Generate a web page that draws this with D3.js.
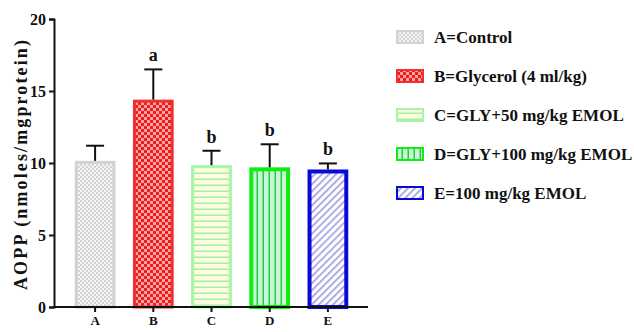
<!DOCTYPE html>
<html>
<head>
<meta charset="utf-8">
<script src="https://cdn.jsdelivr.net/npm/d3@7"></script>
</head>
<body style="margin:0;background:#fff">
<svg id="chart" width="634" height="332"></svg>
<script>
// data
const groups = ["A", "B", "C", "D", "E"];
const means = [10.15, 14.4, 9.85, 9.7, 9.55];
const errors = [1.05, 2.1, 1.0, 1.6, 0.42];
const sigLetters = ["", "a", "b", "b", "b"];
const legendLabels = ["A=Control", "B=Glycerol (4 ml/kg)", "C=GLY+50 mg/kg EMOL", "D=GLY+100 mg/kg EMOL", "E=100 mg/kg EMOL"];
const yTicks = [0, 5, 10, 15, 20];

const serif = '"Times New Roman"';
const svg = d3.select("#chart");
const defs = svg.append("defs");

// fill patterns, one per group
function pat(id, w, h, draw) {
  const p = defs.append("pattern").attr("id", id)
    .attr("patternUnits", "userSpaceOnUse").attr("width", w).attr("height", h);
  draw(p);
}
pat("pA", 4, 4, p => {
  p.append("rect").attr("width", 4).attr("height", 4).attr("fill", "#f4f4f4");
  p.append("rect").attr("width", 2).attr("height", 2).attr("fill", "#d4d4d4");
  p.append("rect").attr("x", 2).attr("y", 2).attr("width", 2).attr("height", 2).attr("fill", "#d4d4d4");
});
pat("pB", 6, 6, p => {
  p.append("rect").attr("width", 6).attr("height", 6).attr("fill", "#ffa3a3");
  p.append("rect").attr("width", 3).attr("height", 3).attr("fill", "#ee1c1c");
  p.append("rect").attr("x", 3).attr("y", 3).attr("width", 3).attr("height", 3).attr("fill", "#ee1c1c");
});
pat("pC", 6, 6, p => {
  p.append("rect").attr("width", 6).attr("height", 6).attr("fill", "#fdfde0");
  p.append("rect").attr("y", 4.5).attr("width", 6).attr("height", 1.5).attr("fill", "#a6f0a6");
});
pat("pD", 6, 6, p => {
  p.append("rect").attr("width", 6).attr("height", 6).attr("fill", "#c9f7d6");
  p.append("rect").attr("x", 4.5).attr("width", 1.5).attr("height", 6).attr("fill", "#22cc44");
});
pat("pE", 5, 5, p => {
  p.attr("patternTransform", "rotate(45)");
  p.append("rect").attr("width", 5).attr("height", 5).attr("fill", "#ffffff");
  p.append("rect").attr("width", 1.6).attr("height", 5).attr("fill", "#9c9ce0");
});

const fills = ["url(#pA)", "url(#pB)", "url(#pC)", "url(#pD)", "url(#pE)"];
const strokes = ["#d2d2d2", "#f03030", "#a8f5a8", "#10ee10", "#0a0ad8"];
const strokeW = [3, 3, 3, 4, 4];

const margin = { left: 54, top: 19, bottom: 25 };
const plotH = 332 - margin.top - margin.bottom; // 288

const x = d3.scaleBand().domain(groups).range([66, 357]).paddingInner(0.3).paddingOuter(0.15);
const y = d3.scaleLinear().domain([0, 20]).range([margin.top + plotH, margin.top]);

const g = svg.append("g");

// bars
g.selectAll("rect.bar").data(groups).enter().append("rect")
  .attr("class", "bar")
  .attr("x", (d, i) => x(d) + strokeW[i] / 2)
  .attr("y", (d, i) => y(means[i]) + strokeW[i] / 2)
  .attr("width", (d, i) => x.bandwidth() - strokeW[i])
  .attr("height", (d, i) => y(0) - y(means[i]) - strokeW[i] / 2)
  .attr("fill", (d, i) => fills[i])
  .attr("stroke", (d, i) => strokes[i])
  .attr("stroke-width", (d, i) => strokeW[i]);

// error bars (upper only)
groups.forEach((d, i) => {
  const cx = x(d) + x.bandwidth() / 2;
  g.append("line").attr("x1", cx).attr("x2", cx)
    .attr("y1", y(means[i])).attr("y2", y(means[i] + errors[i]))
    .attr("stroke", "#111").attr("stroke-width", 2);
  g.append("line").attr("x1", cx - 9).attr("x2", cx + 9)
    .attr("y1", y(means[i] + errors[i])).attr("y2", y(means[i] + errors[i]))
    .attr("stroke", "#111").attr("stroke-width", 2);
  if (sigLetters[i]) {
    g.append("text").attr("x", cx).attr("y", y(means[i] + errors[i]) - 8)
      .attr("text-anchor", "middle").attr("font-size", 18).attr("fill", "#111")
      .text(sigLetters[i]);
  }
});

// axes
const yAxis = g.append("g").attr("transform", `translate(${margin.left},0)`)
  .call(d3.axisLeft(y).tickValues(yTicks).tickSize(5).tickPadding(3));
const xAxis = g.append("g").attr("transform", `translate(0,${y(0)})`)
  .call(d3.axisBottom(x).tickSize(5).tickPadding(4).tickSizeOuter(0));
xAxis.select(".domain").attr("d", `M${margin.left},0H368`);
[yAxis, xAxis].forEach(a => {
  a.select(".domain").attr("stroke", "#111").attr("stroke-width", 2);
  a.selectAll(".tick line").attr("stroke", "#111").attr("stroke-width", 2);
  a.selectAll("text").attr("fill", "#111");
});
yAxis.selectAll("text").attr("font-size", 16);
xAxis.selectAll("text").attr("font-size", 13);

// y axis title, stretched to the length it has in the picture
svg.append("text")
  .attr("transform", `translate(27,165) rotate(-90)`)
  .attr("text-anchor", "middle").attr("font-size", 18).attr("fill", "#111")
  .attr("textLength", 250).attr("lengthAdjust", "spacing")
  .text("AOPP (nmoles/mgprotein)");

// legend
const leg = svg.append("g").attr("transform", "translate(397,0)");
legendLabels.forEach((t, i) => {
  const cy = 37 + i * 39;
  leg.append("rect").attr("x", 0).attr("y", cy - 6).attr("width", 26).attr("height", 12)
    .attr("fill", fills[i]).attr("stroke", strokes[i]).attr("stroke-width", 2);
  leg.append("text").attr("x", 37).attr("y", cy + 6)
    .attr("font-size", 17).attr("fill", "#111").text(t);
});

// every text in Times bold
svg.selectAll("text").style("font-family", serif).style("font-weight", "bold");
</script>
</body>
</html>
